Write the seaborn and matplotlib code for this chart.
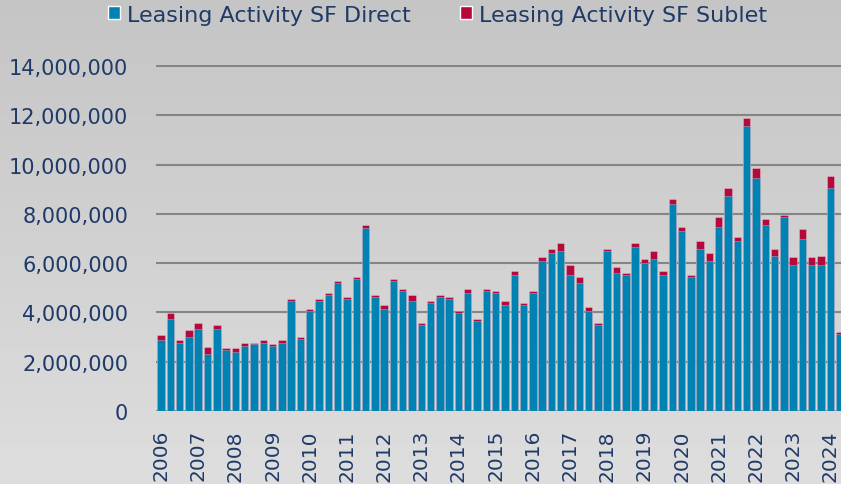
import numpy as np
import pandas as pd
import matplotlib
matplotlib.use("Agg")
import matplotlib.pyplot as plt
from matplotlib.patches import Patch
from matplotlib.colors import LinearSegmentedColormap
from matplotlib.ticker import FuncFormatter
import seaborn as sns

# quarterly leasing activity, 2006 Q1 .. 2024 Q2 (values in SF)
quarters = [f"{y} Q{q}" for y in range(2006, 2025) for q in range(1, 5)][:74]
year_labels = [str(y) for y in range(2006, 2025)]

direct = [2.87, 3.75, 2.78, 3.02, 3.34, 2.30, 3.34, 2.46, 2.38, 2.63,
          2.70, 2.78, 2.63, 2.78, 4.46, 2.94, 4.05, 4.46, 4.70, 5.19,
          4.54, 5.34, 7.42, 4.63, 4.14, 5.26, 4.86, 4.46, 3.49, 4.38,
          4.63, 4.54, 3.97, 4.78, 3.67, 4.87, 4.80, 4.31, 5.52, 4.31,
          4.80, 6.07, 6.40, 6.48, 5.52, 5.19, 4.07, 3.50, 6.48, 5.60,
          5.52, 6.64, 6.00, 6.17, 5.52, 8.41, 7.29, 5.44, 6.56, 6.07,
          7.45, 8.73, 6.88, 11.56, 9.46, 7.53, 6.31, 7.86, 5.93, 6.97,
          5.93, 5.93, 9.06, 3.11]
sublet = [0.23, 0.24, 0.09, 0.25, 0.24, 0.31, 0.15, 0.09, 0.17, 0.15,
          0.08, 0.09, 0.08, 0.09, 0.08, 0.08, 0.08, 0.08, 0.08, 0.07,
          0.07, 0.08, 0.13, 0.08, 0.16, 0.08, 0.08, 0.23, 0.08, 0.08,
          0.08, 0.09, 0.08, 0.16, 0.08, 0.07, 0.08, 0.16, 0.16, 0.08,
          0.08, 0.18, 0.17, 0.32, 0.39, 0.25, 0.16, 0.08, 0.08, 0.24,
          0.08, 0.16, 0.17, 0.31, 0.16, 0.18, 0.16, 0.08, 0.32, 0.33,
          0.41, 0.33, 0.17, 0.32, 0.39, 0.25, 0.25, 0.08, 0.30, 0.40,
          0.30, 0.38, 0.47, 0.08]

df = pd.DataFrame({"quarter": quarters,
                   "direct": np.array(direct) * 1e6,
                   "sublet": np.array(sublet) * 1e6})
df["total"] = df.direct + df.sublet

blue = "#0082b3"
red = "#b5083b"
navy = "#1f3a68"

sns.set_style("white")
plt.rcParams["font.family"] = ["DejaVu Sans"]

fig = plt.figure(figsize=(8.41, 4.85), dpi=100)

# soft grey gradient background
bg = fig.add_axes([0, 0, 1, 1], zorder=-5)
cmap = LinearSegmentedColormap.from_list("bg", ["#c5c5c5", "#dedede"])
bg.imshow(np.linspace(0, 1, 256).reshape(-1, 1), cmap=cmap, aspect="auto",
          extent=[0, 1, 0, 1])
bg.axis("off")

ax = fig.add_axes([0.1855, 0.1505, 0.8145, 0.7138])
ax.patch.set_alpha(0)

# sublet drawn as full stack height, direct laid over it
sns.barplot(x="quarter", y="total", data=df, color=red, saturation=1,
            width=0.8, errorbar=None, ax=ax,
            edgecolor=(1, 1, 1, 0.3), linewidth=0.6)
sns.barplot(x="quarter", y="direct", data=df, color=blue, saturation=1,
            width=0.8, errorbar=None, ax=ax,
            edgecolor=(1, 1, 1, 0.3), linewidth=0.6)

ax.set_ylim(0, 14.05e6)
ax.set_xlim(-0.54, 73.15)
ax.set_yticks(np.arange(0, 14e6 + 1, 2e6))
ax.yaxis.set_major_formatter(FuncFormatter(lambda v, p: f"{int(v):,}"))
ax.set_xticks(np.arange(0, 74, 4))
ax.set_xticklabels(year_labels, rotation=90)

ax.tick_params(axis="y", length=0, pad=20, labelsize=15, labelcolor=navy)
ax.tick_params(axis="x", length=0, pad=13, labelsize=14.5, labelcolor=navy)
ax.yaxis.grid(True, color="#858585", lw=1.5)
ax.xaxis.grid(False)
ax.set_axisbelow(True)
for s in ax.spines.values():
    s.set_visible(False)
ax.set_xlabel("")
ax.set_ylabel("")

handles = [Patch(facecolor=blue), Patch(facecolor=red)]
fig.legend(handles, ["Leasing Activity SF Direct", "Leasing Activity SF Sublet"],
           loc="center", bbox_to_anchor=(0.52, 0.968), ncol=2, frameon=False,
           fontsize=16, labelcolor=navy, handlelength=0.55, handleheight=0.55,
           handletextpad=0.3, columnspacing=2.2)

fig.savefig("out.png", dpi=100)
